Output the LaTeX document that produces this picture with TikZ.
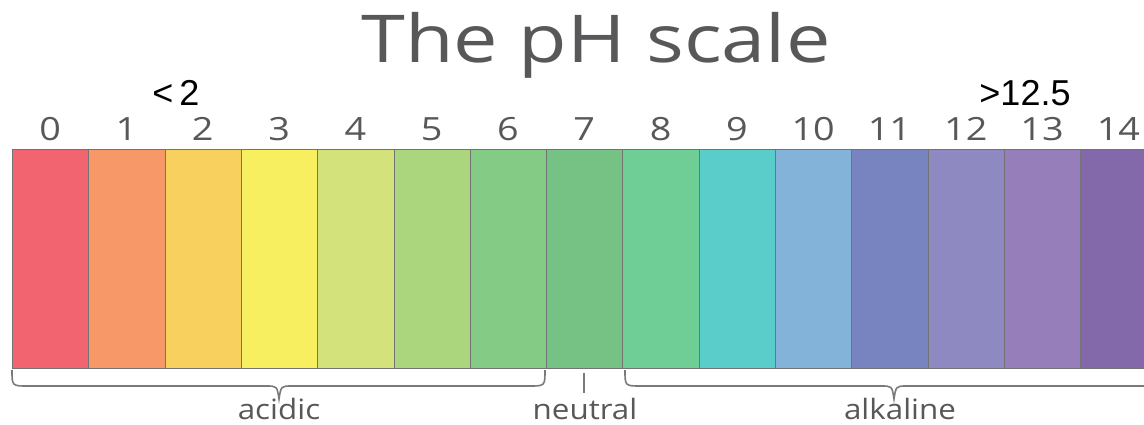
\documentclass[tikz,border=0pt]{standalone}
\usepackage{fontspec}
\setmainfont{Open Sans}
\newfontfamily\arialfont{Liberation Sans}
\definecolor{txtgray}{HTML}{58585A}
\definecolor{bracegray}{HTML}{7A7A7A}
\definecolor{cA}{HTML}{F26470}
\definecolor{cB}{HTML}{F79868}
\definecolor{cC}{HTML}{F8D05E}
\definecolor{cD}{HTML}{F7EE60}
\definecolor{cE}{HTML}{D3E27A}
\definecolor{cF}{HTML}{ABD67E}
\definecolor{cG}{HTML}{84CC86}
\definecolor{cH}{HTML}{76C184}
\definecolor{cI}{HTML}{6FCE96}
\definecolor{cJ}{HTML}{5ACDCB}
\definecolor{cK}{HTML}{84B3DA}
\definecolor{cL}{HTML}{7884C0}
\definecolor{cM}{HTML}{8E89C0}
\definecolor{cN}{HTML}{967EBA}
\definecolor{cO}{HTML}{8369AA}
\tikzset{
  colbox/.style={draw=black!55, line width=0.8pt, inner sep=0pt, minimum width=76.3pt, minimum height=219pt, anchor=north west},
  numlabel/.style={text=txtgray, font=\fontsize{32}{32}\selectfont, anchor=base, inner sep=0pt, xscale=1.18},
  catlabel/.style={text=txtgray, font=\fontsize{28}{28}\selectfont, anchor=base, inner sep=0pt, xscale=1.12},
  marklabel/.style={text=black, font=\arialfont\fontsize{36}{36}\selectfont, anchor=base, inner sep=0pt},
  bracepath/.style={draw=bracegray, line width=1.6pt}
}
\begin{document}
\begin{tikzpicture}[x=1pt,y=-1pt]
\useasboundingbox (0,0) rectangle (1144,424);
\foreach \c [count=\i from 0] in {cA,cB,cC,cD,cE,cF,cG,cH,cI,cJ,cK,cL,cM,cN,cO} {
  \node[colbox, fill=\c] (col\i) at ({12+76.3*\i},149) {};
  \node[numlabel] (num\i) at ({12+76.3*(\i+0.5)},140) {\i};
}
\node[text=txtgray, font=\fontsize{66}{66}\selectfont, anchor=base, inner sep=0pt, xscale=1.2] (title) at (596,62) {The pH scale};
\node[marklabel] (lt2) at (176,105) {<\,2};
\node[marklabel] (gt125) at (1025,105) {>12.5};
% braces
\coordinate (accL) at (12,370);
\coordinate (accR) at (545,370);
\coordinate (accTip) at (279,399);
\draw[bracepath] (accL) .. controls (12,386) .. (28,386) -- (266,386) .. controls (277,386) .. (accTip) .. controls (281,386) .. (292,386) -- (529,386) .. controls (545,386) .. (accR);
\coordinate (alkL) at (625,370);
\coordinate (alkR) at (1165,370);
\coordinate (alkTip) at (894,399);
\begin{scope}
\clip (0,0) rectangle (1144,424);
\draw[bracepath] (alkL) .. controls (625,386) .. (641,386) -- (881,386) .. controls (892,386) .. (alkTip) .. controls (896,386) .. (907,386) -- (1149,386) .. controls (1165,386) .. (alkR);
\end{scope}
\coordinate (neuTop) at (584,373);
\coordinate (neuBot) at (584,393);
\draw[bracepath] (neuTop) -- (neuBot);
\node[catlabel] (acidic) at (279,419) {acidic};
\node[catlabel] (neutral) at (585,419) {neutral};
\node[catlabel] (alkaline) at (900,419) {alkaline};
\end{tikzpicture}
\end{document}
